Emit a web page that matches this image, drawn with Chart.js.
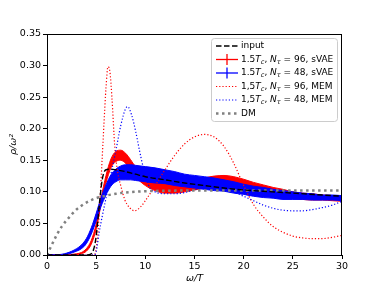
<!DOCTYPE html>
<html>
<head>
<meta charset="utf-8">
<script src="https://cdn.jsdelivr.net/npm/chart.js@4.4.0/dist/chart.umd.min.js"></script>
<style>
html, body { margin: 0; padding: 0; background: #fff; }
</style>
</head>
<body>
<canvas id="myChart" width="381" height="286"></canvas>
<script>
// input spectrum (black dashed)
var inputW = [0, 4, 4.5, 4.8, 5.0, 5.2, 5.4, 5.6, 5.8, 6.0, 6.5, 7, 8, 9, 10, 12, 14, 16, 18, 20, 22, 25, 28, 30];
var inputV = [0, 0, 0.002, 0.012, 0.03, 0.06, 0.092, 0.118, 0.131, 0.135, 0.136, 0.135, 0.132, 0.128, 0.124, 0.119, 0.114, 0.110, 0.106, 0.103, 0.101, 0.098, 0.095, 0.093];

// sVAE bands (upper / lower edge)
var vaeW = [0, 1, 2, 3, 3.5, 4, 4.5, 5, 5.5, 6, 6.5, 7, 7.5, 8, 8.5, 9, 10, 11, 12, 13, 14, 15, 16, 17, 18, 19, 20, 21, 22, 23, 24, 25, 26, 27, 28, 29, 30];
var red96Hi = [0.0005, 0.0005, 0.0005, 0.002, 0.004, 0.010, 0.023, 0.049, 0.090, 0.126, 0.152, 0.164, 0.166, 0.161, 0.151, 0.140, 0.126, 0.118, 0.114, 0.114, 0.116, 0.119, 0.122, 0.125, 0.126, 0.124, 0.120, 0.115, 0.111, 0.107, 0.104, 0.100, 0.098, 0.097, 0.095, 0.094, 0.093];
var red96Lo = [0, 0, 0, 0, 0.002, 0.006, 0.017, 0.041, 0.080, 0.114, 0.138, 0.148, 0.150, 0.145, 0.135, 0.124, 0.110, 0.102, 0.098, 0.098, 0.100, 0.103, 0.106, 0.109, 0.110, 0.108, 0.104, 0.101, 0.097, 0.095, 0.092, 0.090, 0.088, 0.087, 0.087, 0.086, 0.085];
var blue48Hi = [0.0005, 0.0005, 0.003, 0.010, 0.016, 0.026, 0.043, 0.066, 0.091, 0.111, 0.127, 0.136, 0.141, 0.143, 0.143, 0.142, 0.140, 0.138, 0.135, 0.132, 0.128, 0.126, 0.124, 0.122, 0.119, 0.116, 0.112, 0.109, 0.107, 0.104, 0.102, 0.100, 0.098, 0.097, 0.095, 0.095, 0.094];
var blue48Lo = [0, 0, 0.001, 0.006, 0.010, 0.018, 0.033, 0.054, 0.077, 0.095, 0.109, 0.116, 0.119, 0.119, 0.119, 0.118, 0.116, 0.114, 0.113, 0.110, 0.108, 0.106, 0.104, 0.102, 0.101, 0.098, 0.096, 0.093, 0.091, 0.090, 0.088, 0.088, 0.088, 0.087, 0.087, 0.087, 0.086];

// MEM curves
var mem96W = [0, 4.8, 5.0, 5.2, 5.4, 5.6, 5.8, 6.0, 6.2, 6.4, 6.6, 6.9, 7.2, 7.5, 7.9, 8.4, 8.9, 9.5, 10, 11, 12, 13, 14, 15, 16, 16.5, 17, 18, 19, 20, 21, 22, 23, 24, 25, 26, 27, 28, 29, 30];
var mem96V = [0, 0, 0.01, 0.04, 0.09, 0.15, 0.21, 0.265, 0.298, 0.29, 0.25, 0.17, 0.13, 0.11, 0.088, 0.075, 0.070, 0.076, 0.086, 0.11, 0.135, 0.158, 0.176, 0.187, 0.191, 0.190, 0.187, 0.172, 0.145, 0.11, 0.08, 0.06, 0.045, 0.036, 0.030, 0.027, 0.026, 0.026, 0.028, 0.031];
var mem48W = [0, 4.8, 5.0, 5.3, 5.6, 6.0, 6.5, 7.0, 7.5, 8.0, 8.2, 8.6, 9.0, 9.4, 9.8, 10.4, 11, 12, 13, 14, 15, 16, 17, 18, 19, 20, 21, 22, 23, 24, 25, 26, 27, 28, 29, 30];
var mem48V = [0, 0, 0.005, 0.035, 0.06, 0.09, 0.128, 0.165, 0.205, 0.232, 0.235, 0.222, 0.197, 0.166, 0.138, 0.108, 0.100, 0.097, 0.097, 0.099, 0.103, 0.106, 0.108, 0.106, 0.100, 0.093, 0.086, 0.079, 0.074, 0.071, 0.070, 0.070, 0.072, 0.075, 0.079, 0.085];

// DM
var dmW = [0, 0.3, 1.0, 1.5, 2.0, 2.5, 3.0, 3.5, 4.0, 4.5, 5.0, 6, 7, 8, 10, 15, 20, 25, 30];
var dmV = [0, 0.010, 0.032, 0.045, 0.055, 0.064, 0.072, 0.078, 0.083, 0.087, 0.090, 0.094, 0.097, 0.099, 0.101, 0.102, 0.102, 0.102, 0.102];

var xTicks = [0, 5, 10, 15, 20, 25, 30];
var yTicks = [0, 0.05, 0.10, 0.15, 0.20, 0.25, 0.30, 0.35];

function pts(xs, ys) {
    return xs.map(function(x, i) { return {x: x, y: ys[i]}; });
}

var FONT = 'DejaVu Sans';

// legend drawn by hand because of the sub/italic labels
var legendPlugin = {
    id: 'mplLegend',
    afterDraw: function(chart) {
        var c = chart.ctx;
        var area = chart.chartArea;
        c.save();
        // frame on top/right
        c.strokeStyle = '#000';
        c.lineWidth = 1;
        c.strokeRect(area.left + 0.5, area.top + 0.5, area.right - area.left - 1, area.bottom - area.top);

        var bx = 211.5, by = 38.5, bw = 126, bh = 83;
        c.beginPath();
        c.roundRect(bx, by, bw, bh, 3);
        c.fillStyle = 'rgba(255,255,255,0.8)';
        c.fill();
        c.strokeStyle = '#cccccc';
        c.stroke();

        var rows = [
            {style: 'dash', color: '#000', label: [['input']]},
            {style: 'err', color: '#ff0000', label: [['1.5'], ['T', 'i'], ['c', 's'], [', '], ['N', 'i'], ['\u03c4', 's'], [' = 96, sVAE']]},
            {style: 'err', color: '#0000ff', label: [['1.5'], ['T', 'i'], ['c', 's'], [', '], ['N', 'i'], ['\u03c4', 's'], [' = 48, sVAE']]},
            {style: 'dot', color: '#ff0000', label: [['1,5'], ['T', 'i'], ['c', 's'], [', '], ['N', 'i'], ['\u03c4', 's'], [' = 96, MEM']]},
            {style: 'dot', color: '#0000ff', label: [['1,5'], ['T', 'i'], ['c', 's'], [', '], ['N', 'i'], ['\u03c4', 's'], [' = 48, MEM']]},
            {style: 'dm', color: '#808080', label: [['DM']]}
        ];
        var x0 = 216, x1 = 238, tx = 241;
        rows.forEach(function(r, k) {
            var y = 46 + k * 13.5;
            c.save();
            c.strokeStyle = r.color;
            c.lineCap = 'butt';
            if (r.style === 'dash') { c.setLineDash([5.5, 2.5]); c.lineWidth = 1.3; }
            if (r.style === 'dot') { c.setLineDash([1.2, 2]); c.lineWidth = 1.2; }
            if (r.style === 'dm') { c.setLineDash([2.5, 3.5]); c.lineWidth = 2.5; c.strokeStyle = '#808080'; }
            if (r.style === 'err') { c.lineWidth = 1.3; }
            c.beginPath();
            c.moveTo(x0, y); c.lineTo(x1, y);
            c.stroke();
            if (r.style === 'err') {
                c.beginPath();
                c.moveTo(227, y - 5.5); c.lineTo(227, y + 5.5);
                c.stroke();
            }
            c.restore();
            var x = tx;
            c.fillStyle = '#000';
            c.textBaseline = 'middle';
            r.label.forEach(function(p) {
                var it = p[1] === 'i' || p[1] === 's';
                var sz = p[1] === 's' ? 6.5 : 9;
                c.font = (it ? 'italic ' : '') + sz + 'px "' + FONT + '"';
                var yy = p[1] === 's' ? y + 2.5 : y;
                c.fillText(p[0], x, yy);
                x += c.measureText(p[0]).width;
            });
        });
        c.restore();
    }
};

var ctx = document.getElementById('myChart').getContext('2d');
var myChart = new Chart(ctx, {
    type: 'line',
    data: {
        datasets: [
            {label: 'input', data: pts(inputW, inputV), borderColor: '#000', borderWidth: 1.4, borderDash: [5.5, 2.5], order: 0},
            {label: 'DM', data: pts(dmW, dmV), borderColor: '#808080', borderWidth: 2.5, borderDash: [2.5, 3.5], order: 1},
            {label: 'mem48', data: pts(mem48W, mem48V), borderColor: '#0000ff', borderWidth: 1.2, borderDash: [1.2, 2], order: 2},
            {label: 'mem96', data: pts(mem96W, mem96V), borderColor: '#ff0000', borderWidth: 1.2, borderDash: [1.2, 2], order: 3},
            {label: 'blueHi', data: pts(vaeW, blue48Hi), borderColor: '#0000ff', borderWidth: 1, order: 4},
            {label: 'blueLo', data: pts(vaeW, blue48Lo), borderColor: '#0000ff', borderWidth: 1, backgroundColor: '#0000ff', fill: '-1', order: 4},
            {label: 'redHi', data: pts(vaeW, red96Hi), borderColor: '#ff0000', borderWidth: 1, order: 5},
            {label: 'redLo', data: pts(vaeW, red96Lo), borderColor: '#ff0000', borderWidth: 1, backgroundColor: '#ff0000', fill: '-1', order: 5}
        ]
    },
    options: {
        responsive: false,
        animation: false,
        elements: {
            point: {radius: 0},
            line: {cubicInterpolationMode: 'monotone', fill: false}
        },
        layout: {padding: {top: 34, right: 39, left: 0, bottom: 0}},
        plugins: {legend: {display: false}, tooltip: {enabled: false}},
        scales: {
            x: {
                type: 'linear',
                min: 0, max: 30,
                afterFit: function(s) { s.height = 31; },
                afterBuildTicks: function(s) { s.ticks = xTicks.map(function(v) { return {value: v}; }); },
                grid: {drawOnChartArea: false, drawTicks: true, tickLength: 4, color: '#000'},
                border: {color: '#000', width: 1},
                ticks: {color: '#000', padding: 2, maxRotation: 0, font: {family: FONT, size: 9.5}},
                title: {display: true, text: '\u03c9/T', color: '#000', padding: {top: 0, bottom: 2}, font: {family: FONT, size: 9.5, style: 'italic'}}
            },
            y: {
                min: 0, max: 0.35,
                afterFit: function(s) { s.width = 47; },
                afterBuildTicks: function(s) { s.ticks = yTicks.map(function(v) { return {value: v}; }); },
                grid: {drawOnChartArea: false, drawTicks: true, tickLength: 4, color: '#000'},
                border: {color: '#000', width: 1},
                ticks: {color: '#000', padding: 2, font: {family: FONT, size: 9.5},
                    callback: function(v) { return v.toFixed(2); }},
                title: {display: true, text: '\u03c1/\u03c9\u00b2', color: '#000', padding: {top: 8, bottom: 0}, font: {family: FONT, size: 9.5, style: 'italic'}}
            }
        }
    },
    plugins: [legendPlugin]
});
</script>
</body>
</html>
